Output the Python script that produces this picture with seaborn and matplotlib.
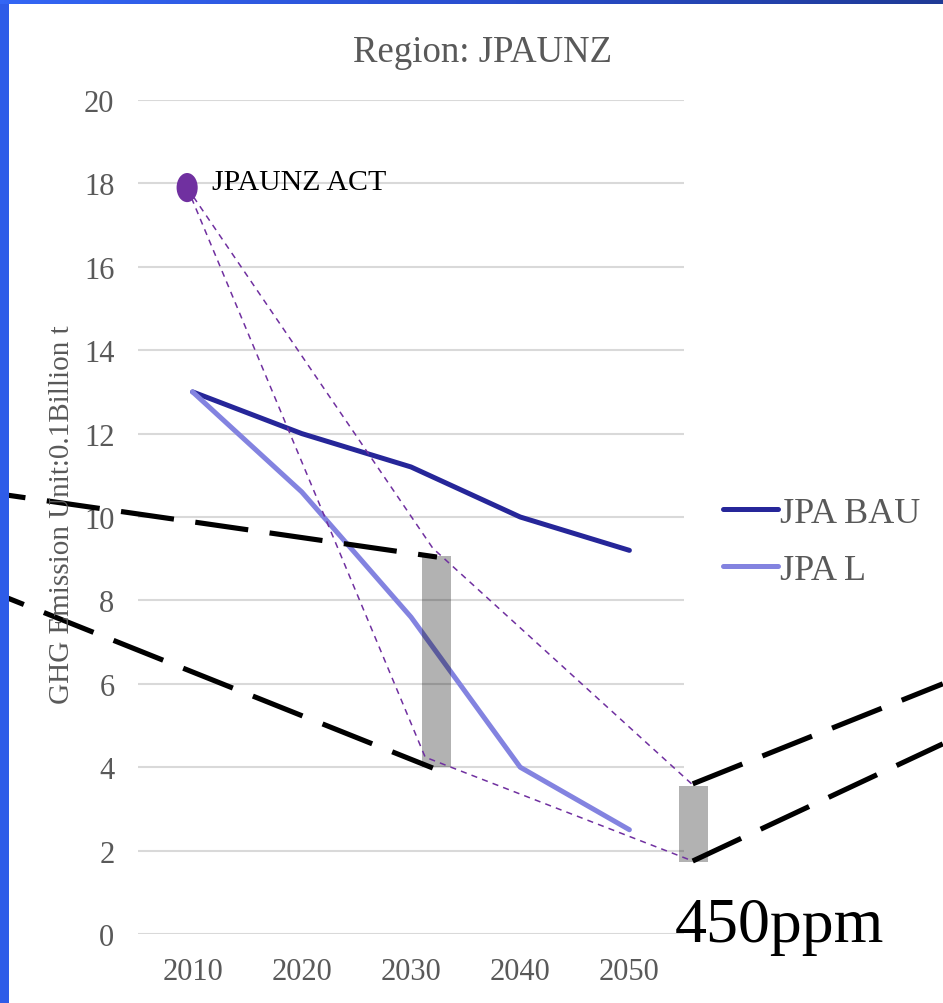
import numpy as np
import pandas as pd
import matplotlib
matplotlib.use("Agg")
import matplotlib.pyplot as plt
import seaborn as sns
from matplotlib.path import Path
from matplotlib.lines import Line2D
from matplotlib.transforms import Affine2D
from matplotlib.colors import LinearSegmentedColormap

# ---------------- data ----------------
years = [2010, 2020, 2030, 2040, 2050]
bau_values = [13.0, 12.0, 11.2, 10.0, 9.2]
low_values = [13.0, 10.6, 7.6, 4.0, 2.5]
series_names = ["JPA BAU", "JPA L"]
series_colors = ["#262699", "#8383E0"]

act_year = [2009.5]
act_value = [17.9]
act_label = "JPAUNZ ACT"

# reduction range bars (2030 range, 450ppm range)
range_x = [2032.33, 2055.87]
range_low = [4.0, 1.73]
range_high = [9.07, 3.55]

# thin dashed guides from the ACT point
guide_upper_x = [2009.5, 2032.0, 2055.7]
guide_upper_y = [17.9, 9.25, 3.6]
guide_lower_x = [2009.5, 2031.3, 2055.8]
guide_lower_y = [17.9, 4.24, 1.75]

# bold dashed callout lines
callout_x = [[1992.36, 2032.38], [1992.36, 2032.0], [2055.8, 2078.7], [2055.8, 2078.7]]
callout_y = [[10.55, 9.04], [8.13, 3.98], [3.6, 6.0], [1.75, 4.56]]

yticks = [0, 2, 4, 6, 8, 10, 12, 14, 16, 18, 20]
title = "Region: JPAUNZ"
ylabel = "GHG Emission Unit:0.1Billion t"
note = "450ppm"

# ---------------- style ----------------
sns.set_theme(style="white")
plt.rcParams["font.family"] = ["Liberation Serif", "DejaVu Serif"]

W, H = 943, 1004
fig = plt.figure(figsize=(W / 100, H / 100), dpi=100)
fig.patch.set_facecolor("white")

ax = fig.add_axes([138 / W, 69 / H, 546 / W, 834 / H])
ax.set_facecolor("white")

df = pd.DataFrame({
    "year": years * 2,
    "value": bau_values + low_values,
    "series": [series_names[0]] * len(years) + [series_names[1]] * len(years),
})
palette = dict(zip(series_names, series_colors))
sns.lineplot(data=df, x="year", y="value", hue="series", palette=palette,
             linewidth=3.6, legend=False, ax=ax, zorder=3,
             solid_capstyle="round", solid_joinstyle="round")

# range bars (semi-transparent)
heights = [h - l for h, l in zip(range_high, range_low)]
ax.bar(range_x, heights, bottom=range_low, width=2.66, color="black",
       alpha=0.3, linewidth=0, zorder=4, clip_on=False)

# thin dashed guides
for gx, gy in [(guide_upper_x, guide_upper_y), (guide_lower_x, guide_lower_y)]:
    ax.plot(gx, gy, color="#7030A0", linewidth=1.1, linestyle=(0, (4.0, 3.4)),
            zorder=5, clip_on=False)

# bold dashed callouts
for i, (cx, cy) in enumerate(zip(callout_x, callout_y)):
    off = 5.4 if i < 2 else 0.0
    ax.plot(cx, cy, color="black", linewidth=3.7, linestyle=(off, (10.4, 4.2)),
            zorder=6, clip_on=False, solid_capstyle="butt", dash_capstyle="butt")

# ACT point (ellipse marker)
ell = Path.unit_circle().transformed(Affine2D().scale(1.0, 1.38))
sns.scatterplot(x=act_year, y=act_value, marker=ell, s=440, color="#7030A0",
                edgecolor="none", ax=ax, zorder=7, legend=False)
ax.text(2011.75, 18.03, act_label, fontsize=21.5, color="black",
        ha="left", va="center", zorder=8)

# axes styling
ax.set_xlim(2005, 2055)
ax.set_ylim(0, 20)
ax.set_xticks(years)
ax.set_xticklabels([str(y) for y in years])
ax.set_yticks(yticks)
ax.set_yticklabels([str(t) for t in yticks])
ax.tick_params(axis="both", length=0, labelsize=22, colors="#595959")
ax.tick_params(axis="x", pad=16.5)
ax.tick_params(axis="y", pad=17)
ax.yaxis.grid(True, color="#D9D9D9", linewidth=1.5)
ax.xaxis.grid(False)
ax.set_axisbelow(True)
for s in ax.spines.values():
    s.set_visible(False)
ax.set_xlabel("")
ax.set_ylabel("")

# legend
handles = [Line2D([0], [0], color=c, linewidth=3.6, solid_capstyle="round")
           for c in series_colors]
ax.legend(handles, series_names, loc="center left",
          bbox_to_anchor=(723 / W, (H - 542.5) / H), bbox_transform=fig.transFigure,
          frameon=False, fontsize=26, labelcolor="#595959", handlelength=1.52,
          handletextpad=0.05, borderpad=0, borderaxespad=0, labelspacing=0.65)

# texts
fig.text(483 / W, (H - 62) / H, title, fontsize=26.5, color="#595959",
         ha="center", va="baseline")
fig.text(62 / W, (H - 515) / H, ylabel, fontsize=21, color="#595959",
         rotation=90, ha="center", va="center", zorder=1)
fig.text(675 / W, (H - 942) / H, note, fontsize=46, color="black",
         ha="left", va="baseline")

# slide borders: left blue bar and top gradient bar
left_ax = fig.add_axes([0, 0, 9 / W, 1])
left_ax.set_facecolor("#2E5CE8")
left_ax.set_xticks([]); left_ax.set_yticks([])
for s in left_ax.spines.values():
    s.set_visible(False)

top_ax = fig.add_axes([0, 1 - 5 / H, 1, 5 / H])
grad = np.linspace(0, 1, 256)[None, :]
cmap = LinearSegmentedColormap.from_list("topbar", ["#3366F5", "#2A4FD0", "#1F3A96"])
top_ax.imshow(grad, aspect="auto", cmap=cmap)
top_ax.set_axis_off()

fig.savefig("out.png", dpi=100)
